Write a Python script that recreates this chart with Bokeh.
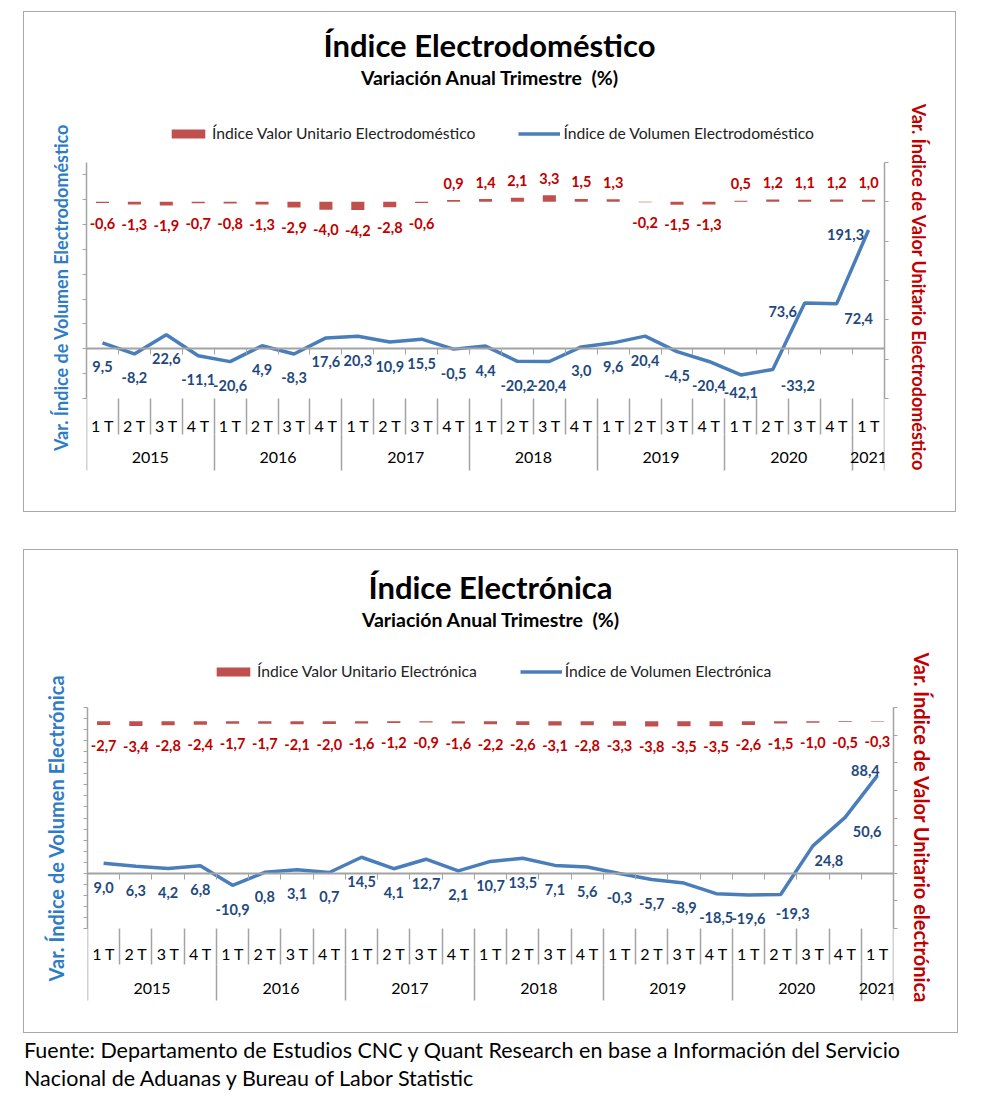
from bokeh.plotting import figure
from bokeh.models import (Range1d, LinearAxis, FixedTicker, Legend, LegendItem,
                          ColumnDataSource, CustomJSTickFormatter, Div)
from bokeh.layouts import column
from bokeh.embed import file_html
from bokeh.resources import INLINE
from bokeh.core.properties import value

# ---------------- data ----------------
years = ["2015"] * 4 + ["2016"] * 4 + ["2017"] * 4 + ["2018"] * 4 + ["2019"] * 4 + ["2020"] * 4 + ["2021"]
quarters = ["1 T", "2 T", "3 T", "4 T"] * 6 + ["1 T"]

electrodom_unit = [-0.6, -1.3, -1.9, -0.7, -0.8, -1.3, -2.9, -4.0, -4.2, -2.8, -0.6, 0.9, 1.4,
                   2.1, 3.3, 1.5, 1.3, -0.2, -1.5, -1.3, 0.5, 1.2, 1.1, 1.2, 1.0]
electrodom_vol = [9.5, -8.2, 22.6, -11.1, -20.6, 4.9, -8.3, 17.6, 20.3, 10.9, 15.5, -0.5, 4.4,
                  -20.2, -20.4, 3.0, 9.6, 20.4, -4.5, -20.4, -42.1, -33.2, 73.6, 72.4, 191.3]

electronica_unit = [-2.7, -3.4, -2.8, -2.4, -1.7, -1.7, -2.1, -2.0, -1.6, -1.2, -0.9, -1.6, -2.2,
                    -2.6, -3.1, -2.8, -3.3, -3.8, -3.5, -3.5, -2.6, -1.5, -1.0, -0.5, -0.3]
electronica_vol = [9.0, 6.3, 4.2, 6.8, -10.9, 0.8, 3.1, 0.7, 14.5, 4.1, 12.7, 2.1, 10.7,
                   13.5, 7.1, 5.6, -0.3, -5.7, -8.9, -18.5, -19.6, -19.3, 24.8, 50.6, 88.4]

# axis scales (min, max, step)
ed_vol_axis = (-80, 300, 40)
ed_unit_axis = (-100, 20, 20)
el_vol_axis = (-50, 150, 10)
el_unit_axis = (-150, 10, 20)

# ---------------- style ----------------
FONT = "Lato"
GRAY = "#A3A3A3"
LINE_BLUE = "#4A7EBB"
BAR_RED = "#C0504D"
LBL_BLUE = "#1F497D"
LBL_RED = "#C00000"
TITLE_BLUE = "#2E7CC6"
SEP = 36  # length of the category separators (px)


def fmt(v):
    return f"{v:.1f}".replace(".", ",")


def ticks_of(spec):
    lo, hi, st = spec
    out, t = [], lo
    while t <= hi + 1e-9:
        out.append(t)
        t += st
    return out


def make_chart(title, subtitle, unit_vals, vol_vals, unit_name, vol_name, left_title, right_title,
               vol_axis, unit_axis, width, height, head_h, title_pad, sub_gap,
               borders, ext, data_px, legend_pos, label_adjust, margin,
               cat_standoffs, title_standoffs, axis_title_size):
    n = len(vol_vals)
    centers = [i + 0.5 for i in range(n)]
    bounds = list(range(n + 1))
    yrs = []
    for y in years:
        if y not in yrs:
            yrs.append(y)
    ycent, ybounds = [], [0]
    for y in yrs:
        idx = [i for i, v in enumerate(years) if v == y]
        ycent.append((idx[0] + idx[-1] + 1) / 2)
        ybounds.append(idx[-1] + 1)

    bl, br = borders
    ext_top, ext_bot = ext
    fig_h = height - head_h
    frame_h = data_px + ext_top + ext_bot
    bb = fig_h - frame_h
    vlo, vhi = vol_axis[0], vol_axis[1]
    ulo, uhi = unit_axis[0], unit_axis[1]
    vpp = (vhi - vlo) / data_px      # volume units per pixel
    upp = (uhi - ulo) / data_px      # unit-value units per pixel

    p = figure(width=width, height=fig_h, x_range=Range1d(0, n),
               y_range=Range1d(vlo - ext_bot * vpp, vhi + ext_top * vpp),
               x_axis_type=None, y_axis_type=None,
               output_backend="svg", toolbar_location=None,
               min_border_left=bl, min_border_right=br, min_border_top=0, min_border_bottom=bb)
    p.outline_line_color = None
    p.background_fill_color = None
    p.border_fill_color = None
    p.extra_y_ranges = {"r": Range1d(ulo - ext_bot * upp, uhi + ext_top * upp)}

    empty = CustomJSTickFormatter(code="return ''")
    ls, rs = title_standoffs

    la = LinearAxis(ticker=FixedTicker(ticks=ticks_of(vol_axis)), formatter=empty, bounds=(vlo, vhi),
                    axis_label=left_title, axis_label_text_color=TITLE_BLUE,
                    axis_label_text_font=FONT, axis_label_text_font_style="bold",
                    axis_label_text_font_size=axis_title_size, axis_label_standoff=ls,
                    axis_line_color=GRAY, axis_line_width=1.5,
                    major_tick_line_color=GRAY, major_tick_in=0, major_tick_out=4,
                    minor_tick_line_color=None, major_label_standoff=0)
    p.add_layout(la, "left")
    ra = LinearAxis(y_range_name="r", ticker=FixedTicker(ticks=ticks_of(unit_axis)), formatter=empty,
                    bounds=(ulo, uhi),
                    axis_label=right_title, axis_label_text_color=LBL_RED,
                    axis_label_text_font=FONT, axis_label_text_font_style="bold",
                    axis_label_text_font_size=axis_title_size, axis_label_standoff=rs,
                    axis_line_color=GRAY, axis_line_width=1.5,
                    major_tick_line_color=GRAY, major_tick_in=0, major_tick_out=4,
                    minor_tick_line_color=None, major_label_standoff=0)
    p.add_layout(ra, "right")

    # two-level category axis: quarters, then years, with separators
    qs, ys = cat_standoffs
    qa = LinearAxis(ticker=FixedTicker(ticks=centers, minor_ticks=bounds), fixed_location=vlo,
                    major_label_overrides={c: q for c, q in zip(centers, quarters)},
                    axis_line_color=None, major_tick_line_color=None,
                    major_tick_out=0, major_tick_in=0,
                    minor_tick_line_color=GRAY, minor_tick_line_width=1.5,
                    minor_tick_out=SEP, minor_tick_in=0,
                    major_label_standoff=qs, major_label_text_font=FONT,
                    major_label_text_font_size="16px", major_label_text_color="black")
    p.add_layout(qa, "below")
    ya = LinearAxis(ticker=FixedTicker(ticks=ycent, minor_ticks=ybounds),
                    fixed_location=vlo - SEP * vpp,
                    major_label_overrides={c: y for c, y in zip(ycent, yrs)},
                    axis_line_color=None, major_tick_line_color=None,
                    major_tick_out=0, major_tick_in=0,
                    minor_tick_line_color=GRAY, minor_tick_line_width=1.5,
                    minor_tick_out=SEP, minor_tick_in=0,
                    major_label_standoff=ys, major_label_text_font=FONT,
                    major_label_text_font_size="16px", major_label_text_color="black")
    p.add_layout(ya, "below")
    za = LinearAxis(ticker=FixedTicker(ticks=bounds), fixed_location=0, formatter=empty,
                    axis_line_color=GRAY, axis_line_width=2,
                    major_tick_line_color=GRAY, major_tick_in=0, major_tick_out=6,
                    minor_tick_line_color=None, major_label_standoff=0)
    p.add_layout(za, "below")

    # bars (unit value index)
    bsrc = ColumnDataSource(dict(
        x=centers, top=unit_vals, txt=[fmt(v) for v in unit_vals],
        dy=[-17 if v > 0 else 20 for v in unit_vals]))
    bars = p.vbar(x="x", top="top", bottom=0, width=0.41, source=bsrc, y_range_name="r",
                  fill_color=BAR_RED, line_color=None)
    p.text(x="x", y="top", text="txt", source=bsrc, y_range_name="r", y_offset="dy",
           text_align="center", text_baseline="middle", text_color=LBL_RED,
           text_font=value(FONT), text_font_style="bold", text_font_size="14.5px")

    # line (volume index)
    dxs = [0] * n
    dys = [24] * n
    for i, (dx, dy) in label_adjust.items():
        dxs[i] = dx
        dys[i] = dy
    lsrc = ColumnDataSource(dict(x=centers, y=vol_vals, txt=[fmt(v) for v in vol_vals],
                                 dx=dxs, dy=dys))
    line = p.line(x="x", y="y", source=lsrc, line_color=LINE_BLUE, line_width=3.5)
    p.text(x="x", y="y", text="txt", source=lsrc, x_offset="dx", y_offset="dy",
           text_align="center", text_baseline="middle", text_color=LBL_BLUE,
           text_font=value(FONT), text_font_style="bold", text_font_size="14.5px")

    lx, lcenter = legend_pos
    legend = Legend(items=[LegendItem(label=unit_name, renderers=[bars]),
                           LegendItem(label=vol_name, renderers=[line])],
                    orientation="horizontal", location=(lx, frame_h - lcenter - 10),
                    glyph_width=42, glyph_height=11, label_standoff=3, spacing=43,
                    label_height=20, label_text_font=FONT, label_text_font_size="15.7px",
                    label_text_color="#222222", label_text_baseline="middle",
                    border_line_color=None, background_fill_alpha=0,
                    padding=0, margin=0)
    p.add_layout(legend, "center")

    head = Div(text=(f"<div style='text-align:center;font-family:Lato;color:black;width:{width}px;'>"
                     f"<div style='font-size:31px;font-weight:bold;line-height:36px;padding-top:{title_pad}px;'>{title}</div>"
                     f"<div style='font-size:19.5px;font-weight:bold;line-height:24px;margin-top:{sub_gap}px;'>{subtitle}</div>"
                     f"</div>"),
               width=width, height=head_h, margin=0)
    p.margin = 0
    box = column(head, p, spacing=0, margin=margin,
                 styles={"outline": "1.5px solid #A8A8A8", "outline-offset": "-1px",
                         "background-color": "white"})
    return box


c1 = make_chart("Índice Electrodoméstico", "Variación Anual Trimestre&nbsp; (%)",
                electrodom_unit, electrodom_vol,
                "Índice Valor Unitario Electrodoméstico", "Índice de Volumen Electrodoméstico",
                "Var. Índice de Volumen Electrodoméstico", "Var. Índice de Valor Unitario Electrodoméstico",
                ed_vol_axis, ed_unit_axis, 933, 501, 80, 16, 3,
                (63, 72), (71, 85), 236, (81, 42),
                {20: (0, 18), 21: (25, 16), 22: (-22, 8), 23: (22, 15), 24: (-23, 4)},
                (11, 0, 0, 23), (-19, -19), (11, 19), "18px")

c2 = make_chart("Índice Electrónica", "Variación Anual Trimestre&nbsp; (%)",
                electronica_unit, electronica_vol,
                "Índice Valor Unitario Electrónica", "Índice de Volumen Electrónica",
                "Var. Índice de Volumen Electrónica", "Var. Índice de Valor Unitario electrónica",
                el_vol_axis, el_unit_axis, 935, 484, 90, 20, 3,
                (64, 65), (68, 88), 221, (125, 32),
                {21: (12, 19), 22: (16, 15), 23: (22, 14), 24: (-12, -5)},
                (37, 0, 0, 23), (-21, -18), (16, 12), "20px")

note = Div(text="Fuente: Departamento de Estudios CNC y Quant Research en base a Información del Servicio<br>"
                "Nacional de Aduanas y Bureau of Labor Statistic",
           width=970, margin=(3, 0, 0, 24),
           styles={"font-family": "Lato", "font-size": "21.5px", "line-height": "28px", "color": "black"})

layout = column(c1, c2, note, spacing=0)
open("out.html", "w").write(file_html(layout, INLINE))
